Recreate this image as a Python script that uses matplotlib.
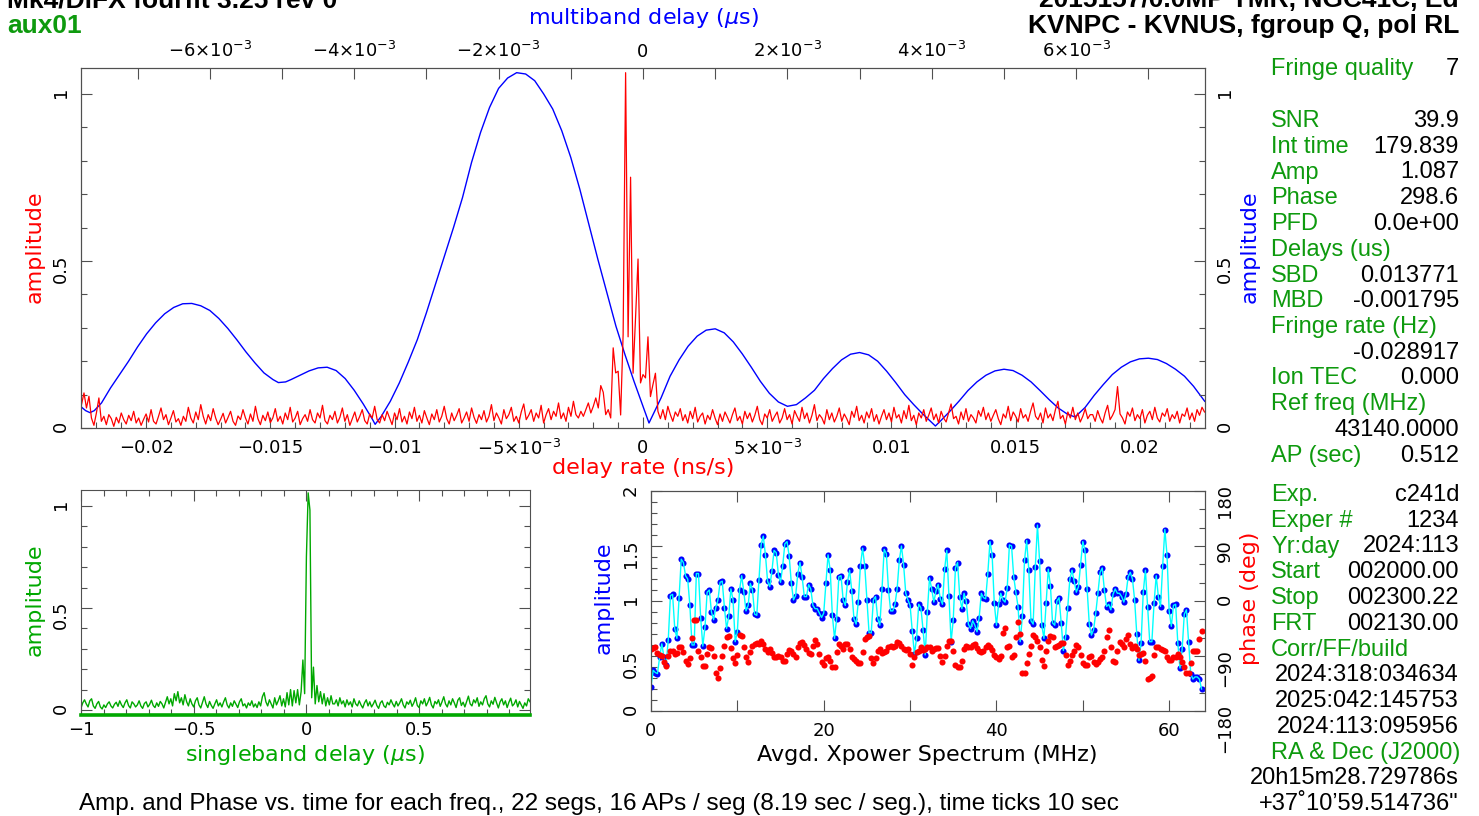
import numpy as np
from matplotlib import pyplot as plt
from matplotlib.ticker import FixedLocator, MultipleLocator

W, H = 1479, 816
RED, BLUE, CYAN = "#ff0000", "#0000ff", "#00ffff"
GREEN = "#00a800"
LABEL_GREEN = "#0e9a0e"
TICK = "#505050"

# ---- top panel: delay rate spectrum (red), one value per 1e-4 ns/s from -0.0226
rate_start, rate_step = -0.0226, 1e-4
rate_amp_milli = [
    70, 105, 60, 95, 30, 8, 45, 90, 20, 35, 10, 40, 28, 5, 32, 15, 45, 25, 12, 38,
    22, 50, 15, 30, 8, 26, 42, 18, 55, 20, 12, 35, 60, 25, 40, 10, 30, 52, 18, 28,
    8, 35, 20, 62, 30, 15, 48, 25, 70, 35, 12, 40, 22, 58, 30, 10, 26, 44, 15, 32,
    50, 20, 8, 36, 25, 55, 30, 12, 42, 20, 65, 28, 10, 38, 22, 48, 16, 30, 58, 20,
    35, 12, 45, 25, 62, 18, 30, 50, 10, 28, 40, 20, 55, 25, 15, 45, 30, 68, 22, 12,
    38, 25, 50, 15, 32, 60, 20, 40, 8, 28, 48, 18, 35, 55, 22, 12, 42, 30, 65, 25,
    15, 40, 22, 50, 30, 10, 45, 25, 58, 18, 35, 12, 48, 28, 62, 20, 38, 15, 52, 30,
    10, 42, 25, 55, 18, 35, 65, 28, 12, 45, 22, 38, 58, 15, 30, 48, 20, 60, 32, 14,
    40, 25, 52, 18, 35, 70, 22, 45, 30, 12, 55, 28, 40, 62, 20, 35, 15, 48, 72, 25,
    38, 55, 20, 45, 30, 68, 15, 40, 58, 25, 50, 35, 75, 28, 45, 20, 62, 35, 80, 40,
    30, 50, 35, 55, 75, 45, 65, 90, 60, 127, 107, 40, 55, 30, 240, 165, 170, 39, 280, 1064,
    273, 751, 164, 330, 506, 135, 160, 150, 273, 94, 130, 164, 50, 28, 55, 25, 65, 40, 20, 48,
    35, 58, 22, 40, 15, 50, 28, 62, 18, 35, 45, 12, 38, 25, 55, 30, 10, 42, 20, 48,
    32, 15, 40, 60, 22, 35, 12, 50, 28, 45, 18, 38, 65, 25, 10, 42, 30, 55, 20, 35,
    48, 15, 30, 58, 25, 40, 12, 52, 35, 20, 62, 28, 45, 15, 38, 70, 22, 40, 30, 12,
    55, 25, 45, 18, 35, 60, 20, 42, 28, 10, 50, 32, 65, 22, 38, 15, 48, 30, 58, 20,
    40, 12, 35, 55, 25, 45, 18, 62, 30, 40, 15, 52, 28, 68, 22, 38, 10, 45, 30, 55,
    20, 38, 60, 25, 42, 15, 50, 30, 18, 45, 72, 28, 35, 12, 48, 25, 58, 20, 40, 30,
    15, 52, 35, 62, 25, 45, 20, 38, 55, 28, 10, 42, 30, 65, 22, 48, 35, 18, 58, 30,
    40, 20, 50, 75, 35, 25, 45, 15, 60, 30, 42, 22, 55, 80, 28, 38, 12, 48, 30, 62,
    25, 45, 18, 35, 58, 28, 40, 40, 20, 52, 30, 15, 45, 68, 25, 38, 55, 124, 42, 30,
    12, 48, 35, 60, 22, 40, 28, 55, 15, 38, 50, 25, 62, 30, 18, 45, 35, 58, 20, 40,
    28, 50, 15, 42, 35, 60, 25, 45, 20, 55, 38, 62, 48,
]

# ---- top panel: multiband delay function (blue); delay in units of 1e-3 us
mbd_delay_milli = [
    -7.78, -7.72, -7.66, -7.6, -7.5, -7.375, -7.25, -7.125, -7.0, -6.875,
    -6.75, -6.625, -6.5, -6.375, -6.25, -6.125, -6.0, -5.875, -5.75, -5.625,
    -5.5, -5.375, -5.25, -5.125, -5.05, -4.95, -4.875, -4.75, -4.625, -4.5,
    -4.375, -4.25, -4.125, -4.0, -3.875, -3.75, -3.71, -3.625, -3.5, -3.375,
    -3.25, -3.125, -3.0, -2.875, -2.75, -2.625, -2.5, -2.375, -2.25, -2.125,
    -2.0, -1.875, -1.75, -1.625, -1.5, -1.375, -1.25, -1.125, -1.0, -0.875,
    -0.75, -0.625, -0.5, -0.375, -0.25, -0.125, 0.0, 0.083, 0.25, 0.375,
    0.5, 0.625, 0.75, 0.875, 1.0, 1.125, 1.25, 1.375, 1.5, 1.625,
    1.75, 1.875, 2.0, 2.125, 2.25, 2.375, 2.5, 2.625, 2.75, 2.875,
    3.0, 3.125, 3.25, 3.375, 3.5, 3.625, 3.75, 3.875, 4.0, 4.05,
    4.125, 4.25, 4.375, 4.5, 4.625, 4.75, 4.875, 5.0, 5.125, 5.25,
    5.375, 5.5, 5.625, 5.75, 5.875, 5.97, 6.0, 6.125, 6.25, 6.375,
    6.5, 6.625, 6.75, 6.875, 7.0, 7.125, 7.25, 7.375, 7.5, 7.625,
    7.78,
]
mbd_amp = [
    0.063, 0.052, 0.046, 0.052, 0.075, 0.12, 0.16, 0.2, 0.243, 0.282,
    0.315, 0.342, 0.361, 0.372, 0.373, 0.366, 0.352, 0.328, 0.298, 0.264,
    0.228, 0.195, 0.165, 0.145, 0.136, 0.138, 0.145, 0.158, 0.171, 0.18,
    0.182, 0.172, 0.148, 0.113, 0.072, 0.027, 0.011, 0.035, 0.08, 0.135,
    0.198, 0.265, 0.345, 0.43, 0.515, 0.6, 0.69, 0.795, 0.885, 0.96,
    1.017, 1.048, 1.064, 1.06, 1.04, 1.0, 0.955, 0.89, 0.81, 0.715,
    0.61, 0.505, 0.405, 0.305, 0.22, 0.14, 0.065, 0.015, 0.09, 0.155,
    0.204, 0.245, 0.275, 0.293, 0.297, 0.285, 0.258, 0.222, 0.182, 0.14,
    0.104, 0.078, 0.065, 0.07, 0.09, 0.113, 0.148, 0.178, 0.204, 0.221,
    0.226, 0.219, 0.2, 0.17, 0.136, 0.1, 0.07, 0.042, 0.016, 0.006,
    0.022, 0.05, 0.08, 0.112, 0.138, 0.158, 0.171, 0.176, 0.172, 0.158,
    0.138, 0.112, 0.085, 0.06, 0.042, 0.034, 0.036, 0.062, 0.098, 0.13,
    0.16, 0.182, 0.198, 0.207, 0.209, 0.205, 0.193, 0.176, 0.155, 0.125,
    0.08,
]

# ---- singleband delay function (green), 256 lags from -1 us, 1/128 us apart
sbd_amp_milli = [
    10, 35, 50, 30, 15, 45, 55, 20, 8, 30, 42, 15, 5, 25, 12, 30,
    40, 20, 10, 28, 38, 18, 45, 25, 12, 35, 50, 22, 10, 40, 30, 15,
    25, 45, 20, 8, 32, 40, 15, 28, 48, 22, 12, 35, 18, 42, 30, 10,
    38, 65, 30, 55, 20, 80, 45, 90, 35, 60, 25, 75, 40, 20, 55, 30,
    15, 45, 60, 25, 10, 38, 65, 30, 12, 42, 22, 8, 30, 50, 20, 35,
    15, 40, 60, 25, 10, 35, 18, 45, 28, 12, 40, 55, 20, 30, 10, 35,
    22, 45, 15, 30, 12, 40, 20, 65, 85, 40, 20, 50, 30, 10, 60, 25,
    45, 70, 20, 55, 15, 85, 25, 100, 20, 95, 35, 100, 25, 90, 245, 80,
    750, 1064, 980, 60, 210, 30, 120, 40, 90, 30, 80, 20, 60, 25, 70, 30,
    30, 50, 20, 60, 30, 45, 15, 50, 25, 40, 15, 55, 30, 20, 45, 25,
    10, 35, 50, 20, 40, 15, 30, 48, 22, 8, 35, 45, 20, 12, 38, 25,
    50, 30, 15, 42, 20, 35, 55, 25, 10, 40, 28, 48, 18, 35, 60, 22,
    12, 45, 30, 55, 20, 38, 62, 25, 10, 42, 30, 50, 18, 40, 65, 30,
    15, 45, 25, 55, 35, 12, 48, 60, 22, 38, 15, 42, 68, 30, 20, 50,
    35, 60, 18, 40, 25, 55, 70, 30, 15, 45, 28, 62, 35, 10, 40, 55,
    25, 45, 12, 38, 58, 20, 30, 50, 15, 42, 25, 8, 35, 20, 55, 40,
]

# ---- averaged cross-power spectrum, 0.25 MHz per point
spec_step = 0.25
spec_amp = [
    0.22, 0.37, 0.35, 0.34, 0.49, 0.61, 0.49, 0.42, 0.65, 1.05,
    1.06, 0.75, 0.66, 1.03, 1.38, 1.35, 1.23, 1.20, 0.96, 0.60,
    0.60, 1.25, 1.25, 0.85, 0.59, 0.76, 1.08, 1.10, 0.90, 0.83,
    0.94, 1.01, 1.17, 1.18, 0.94, 0.75, 0.86, 1.11, 1.01, 0.63,
    0.72, 1.10, 1.23, 1.08, 0.91, 0.96, 1.16, 1.10, 0.88, 0.87,
    1.19, 1.51, 1.59, 1.42, 1.18, 1.13, 1.27, 1.46, 1.44, 1.24,
    1.17, 1.32, 1.52, 1.54, 1.41, 1.16, 1.01, 1.05, 1.25, 1.35,
    1.22, 1.04, 1.04, 1.15, 1.11, 0.96, 0.93, 0.93, 0.89, 0.85,
    0.89, 1.16, 1.42, 1.28, 0.87, 0.66, 0.84, 1.22, 1.23, 1.01,
    0.96, 1.17, 1.28, 1.09, 0.84, 0.79, 0.99, 1.32, 1.48, 1.32,
    1.01, 0.71, 0.71, 1.01, 1.04, 0.84, 0.78, 1.11, 1.47, 1.43,
    1.10, 0.91, 0.91, 0.97, 1.11, 1.37, 1.50, 1.33, 1.07, 1.01,
    0.96, 0.73, 0.52, 0.66, 0.97, 0.94, 0.74, 0.51, 0.90, 1.21,
    1.11, 0.99, 1.09, 1.15, 1.02, 0.97, 1.29, 1.46, 1.05, 0.63,
    0.83, 1.30, 1.35, 1.04, 0.93, 1.07, 1.00, 0.79, 0.75, 0.82,
    0.78, 0.72, 0.85, 1.07, 1.03, 1.02, 1.25, 1.54, 1.42, 0.98,
    0.78, 0.97, 1.07, 1.01, 0.99, 1.12, 1.51, 1.50, 1.22, 1.08,
    0.95, 0.63, 0.86, 1.37, 1.55, 1.28, 0.82, 0.79, 1.31, 1.69,
    1.36, 0.78, 0.66, 0.98, 1.29, 1.14, 0.80, 0.78, 1.00, 1.03,
    0.80, 0.55, 0.67, 0.94, 1.20, 1.28, 1.18, 1.08, 1.13, 1.33,
    1.54, 1.46, 1.11, 0.79, 0.69, 0.74, 0.89, 1.07, 1.26, 1.30,
    1.10, 0.95, 0.97, 0.92, 1.06, 1.11, 1.07, 1.07, 1.04, 0.99,
    1.06, 1.22, 1.26, 1.20, 1.01, 0.70, 0.46, 0.62, 1.08, 1.28,
    0.95, 0.63, 0.63, 0.98, 1.23, 1.04, 0.95, 1.32, 1.65, 1.42,
    0.91, 0.77, 0.96, 0.97, 0.62, 0.39, 0.56, 0.88, 0.92, 0.63,
    0.34, 0.29, 0.31, 0.31, 0.29, 0.20,
]
spec_phase = [
    -78.6, -77.0, -75.9, -85.8, -87.9, -89.6, -100.5, -106.0, -89.6, -81.4,
    -82.5, -86.8, -85.8, -75.9, -75.9, -83.0, -97.8, -103.3, -93.4, -60.5,
    -31.0, -31.0, -81.4, -92.3, -106.0, -107.1, -86.8, -75.9, -77.0, -89.6,
    -117.0, -126.3, -110.4, -89.6, -73.1, -59.4, -56.7, -77.0, -94.0, -102.2,
    -87.9, -55.1, -56.7, -74.8, -92.3, -100.5, -84.1, -73.1, -70.4, -69.3,
    -70.4, -66.0, -70.4, -78.6, -84.1, -78.6, -85.8, -92.3, -92.3, -89.6,
    -92.3, -97.8, -97.8, -86.8, -80.3, -81.4, -86.8, -91.2, -74.8, -69.3,
    -67.7, -71.5, -78.6, -85.8, -86.8, -73.1, -63.8, -70.4, -86.8, -100.5,
    -104.4, -93.4, -91.2, -97.8, -108.8, -108.8, -84.1, -70.4, -73.1, -78.6,
    -70.4, -70.4, -78.6, -92.3, -95.1, -97.8, -102.2, -102.2, -83.0, -62.2,
    -59.4, -56.7, -93.4, -102.2, -93.4, -82.5, -78.6, -85.8, -84.1, -81.4,
    -74.8, -73.1, -75.9, -73.1, -67.7, -69.3, -73.1, -78.6, -79.7, -78.6,
    -86.8, -104.4, -91.2, -84.1, -82.5, -75.9, -80.0, -78.0,
    -74.8, -75.9, -81.4, -78.6, -77.0, -77.0, -89.6, -100.5, -89.6, -73.1,
    -66.0, -66.0, -82.5, -104.4, -107.7, -108.8, -98.9, -78.6, -73.1, -75.9,
    -75.9, -71.5, -70.4, -77.0, -81.4, -84.1, -82.5, -75.9, -71.5, -74.8,
    -80.3, -87.9, -92.3, -95.1, -89.6, -52.9, -44.1, -74.8, -73.1, -92.3,
    -87.9, -58.4, -34.8, -54.0, -117.0, -118.1, -102.2, -86.8, -73.1, -55.1,
    -58.4, -66.0, -75.9, -96.2, -106.0, -81.4, -64.9, -56.7, -59.4, -75.9,
    -73.0,
    -71.5, -69.3, -69.3, -87.9, -104.4, -97.8, -87.9, -81.4, -71.5, -74.8,
    -87.9, -102.2, -104.4, -104.4, -91.2, -89.6, -100.5, -103.3, -100.5, -95.1,
    -92.3, -81.4, -58.4, -47.4, -75.9, -97.8, -100.5, -81.4, -67.7, -70.4,
    -74.8, -62.2, -55.1, -70.4, -77.0, -73.1, -78.6, -87.9, -86.8, -85.8,
    -97.8, -127.9, -125.2, -122.5, -87.9, -75.9, -75.9, -78.6, -80.3, -81.4,
    -91.2, -96.7, -96.7, -91.2, -92.3, -86.8, -92.3, -100.5, -108.8, -118.6,
    -118.6, -102.2, -82.5, -82.5, -82.5, -62.2, -49.6,
]

# ---- tick labels
rate_ticks = [-0.02, -0.015, -0.01, -0.005, 0, 0.005, 0.01, 0.015, 0.02]
rate_ticklabels = ["\u22120.02", "\u22120.015", "\u22120.01", r"$-5{\times}10^{-3}$", "0",
                   r"$5{\times}10^{-3}$", "0.01", "0.015", "0.02"]
mbd_ticks = [-6e-3, -4e-3, -2e-3, 0, 2e-3, 4e-3, 6e-3]
mbd_ticklabels = [r"$-6{\times}10^{-3}$", r"$-4{\times}10^{-3}$", r"$-2{\times}10^{-3}$", "0",
                  r"$2{\times}10^{-3}$", r"$4{\times}10^{-3}$", r"$6{\times}10^{-3}$"]
sbd_ticks = [-1, -0.5, 0, 0.5]
sbd_ticklabels = ["\u22121", "\u22120.5", "0", "0.5"]
freq_ticks = [0, 20, 40, 60]
phase_ticks = [-180, -90, 0, 90, 180]
phase_ticklabels = ["\u2212180", "\u221290", "0", "90", "180"]

# ---- right hand text column
info_upper = [("SNR", "39.9"), ("Int time", "179.839"), ("Amp", "1.087"), ("Phase", "298.6"),
              ("PFD", "0.0e+00"), ("Delays (us)", ""), ("SBD", "0.013771"), ("MBD", "-0.001795"),
              ("Fringe rate (Hz)", ""), ("", "-0.028917"), ("Ion TEC", "0.000"),
              ("Ref freq (MHz)", ""), ("", "43140.0000"), ("AP (sec)", "0.512")]
info_lower = [("Exp.", "c241d"), ("Exper #", "1234"), ("Yr:day", "2024:113"),
              ("Start", "002000.00"), ("Stop", "002300.22"), ("FRT", "002130.00"),
              ("Corr/FF/build", ""), ("", "2024:318:034634"), ("", "2025:042:145753"),
              ("", "2024:113:095956"), ("RA & Dec (J2000)", ""), ("", "20h15m28.729786s"),
              ("", "+37\u02da10\u201959.514736\"")]

plt.rcParams['font.family'] = ['DejaVu Sans']
plt.rcParams['mathtext.fontset'] = 'dejavusans'
plt.rcParams['xtick.labelsize'] = 13
plt.rcParams['ytick.labelsize'] = 13

fig = plt.figure(figsize=(W / 100, H / 100), dpi=100)


def px_axes(left, top, right, bottom):
    return fig.add_axes([left / W, 1 - bottom / H, (right - left) / W, (bottom - top) / H])


def px_text(x, y, s, **kw):
    fig.text(x / W, 1 - y / H, s, **kw)


def pg_frame(a):
    for s in a.spines.values():
        s.set_color(TICK)
        s.set_linewidth(0.8)
    a.tick_params(which='both', direction='in', color=TICK, width=0.8)
    a.tick_params(which='major', length=8)
    a.tick_params(which='minor', length=4)


# ------------- top panel
ax = px_axes(81, 68, 1205, 428)
rate_x = rate_start + rate_step * np.arange(len(rate_amp_milli))
ax.plot(rate_x, np.array(rate_amp_milli) / 1000, color=RED, lw=0.9)
ax.set_xlim(-0.02262, 0.02262)
ax.set_ylim(0, 1.078)
ax.xaxis.set_major_locator(FixedLocator(rate_ticks))
ax.set_xticklabels(rate_ticklabels)
ax.xaxis.set_minor_locator(MultipleLocator(0.001))
ax.yaxis.set_major_locator(FixedLocator([0, 0.5, 1]))
ax.set_yticklabels(["0", "0.5", "1"])
ax.yaxis.set_minor_locator(MultipleLocator(0.1))
pg_frame(ax)
ax.tick_params(which='both', top=False, right=True, labelright=True)
ax.tick_params(axis='y', labelrotation=90, pad=8)
ax.tick_params(axis='x', pad=8)

axm = ax.twiny()
axm.plot(np.array(mbd_delay_milli) / 1000, mbd_amp, color=BLUE, lw=1.0)
axm.set_xlim(-7.784e-3, 7.784e-3)
axm.xaxis.set_major_locator(FixedLocator(mbd_ticks))
axm.set_xticklabels(mbd_ticklabels)
axm.xaxis.set_minor_locator(MultipleLocator(1e-3))
pg_frame(axm)
axm.tick_params(which='minor', length=8)
axm.tick_params(axis='x', pad=5)
ax.set_zorder(axm.get_zorder() + 1)
ax.patch.set_visible(False)

# ------------- singleband delay panel
axb = px_axes(81, 490, 530, 715)
sbd_x = -1 + np.arange(len(sbd_amp_milli)) / 128
axb.plot(sbd_x, np.array(sbd_amp_milli) / 1000, color=GREEN, lw=1.0)
axb.set_xlim(-1, 0.992)
axb.set_ylim(-0.0245, 1.078)
axb.xaxis.set_major_locator(FixedLocator(sbd_ticks))
axb.set_xticklabels(sbd_ticklabels)
axb.xaxis.set_minor_locator(MultipleLocator(0.1))
axb.yaxis.set_major_locator(FixedLocator([0, 0.5, 1]))
axb.set_yticklabels(["0", "0.5", "1"])
axb.yaxis.set_minor_locator(MultipleLocator(0.1))
pg_frame(axb)
axb.tick_params(which='both', top=True, right=True)
axb.tick_params(axis='y', labelrotation=90, pad=8)
axb.tick_params(axis='x', pad=4)
axb.spines['bottom'].set_color(GREEN)
axb.spines['bottom'].set_linewidth(2.6)

# ------------- spectrum panel
axs = px_axes(651, 491, 1205, 711)
spec_f = spec_step * np.arange(len(spec_amp))
axs.plot(spec_f, spec_amp, 'o', color=BLUE, ms=4.4, mew=0)
axs.plot(spec_f, spec_amp, '-', color=CYAN, lw=1.0)
axs.set_xlim(0, 64.15)
axs.set_ylim(0, 2)
axs.xaxis.set_major_locator(FixedLocator(freq_ticks))
axs.xaxis.set_minor_locator(MultipleLocator(10))
axs.yaxis.set_major_locator(FixedLocator([0, 0.5, 1, 1.5, 2]))
axs.set_yticklabels(["0", "0.5", "1", "1.5", "2"])
axs.yaxis.set_minor_locator(MultipleLocator(0.1))
pg_frame(axs)
axs.tick_params(which='both', top=True, right=False)
axs.tick_params(axis='x', which='minor', length=8)
axs.tick_params(axis='y', labelrotation=90, pad=8)
axs.tick_params(axis='x', pad=8)

axp = axs.twinx()
phase_f = spec_step * np.arange(len(spec_phase))
axp.plot(phase_f, spec_phase, 'o', color=RED, ms=4.4, mew=0)
axp.set_ylim(-180, 180)
axp.yaxis.set_major_locator(FixedLocator(phase_ticks))
axp.set_yticklabels(phase_ticklabels)
axp.yaxis.set_minor_locator(MultipleLocator(30))
pg_frame(axp)
axp.tick_params(axis='y', labelrotation=90, pad=8)

# ------------- axis titles (pgplot style)
lab = dict(fontsize=16)
px_text(643, 18, r"multiband delay ($\mu$s)", color=BLUE, ha='center', va='center', **lab)
px_text(643, 468, "delay rate (ns/s)", color=RED, ha='center', va='center', **lab)
px_text(35, 247, "amplitude", color=RED, rotation=90, ha='center', va='center', **lab)
px_text(1250, 247, "amplitude", color=BLUE, rotation=90, ha='center', va='center', **lab)
px_text(35, 600, "amplitude", color=GREEN, rotation=90, ha='center', va='center', **lab)
px_text(305, 755, r"singleband delay ($\mu$s)", color=GREEN, ha='center', va='center', **lab)
px_text(604, 598, "amplitude", color=BLUE, rotation=90, ha='center', va='center', **lab)
px_text(1250, 598, "phase (deg)", color=RED, rotation=90, ha='center', va='center', **lab)
px_text(927, 755, "Avgd. Xpower Spectrum (MHz)", color='black', ha='center', va='center', **lab)

# ------------- header / footer
hdr = dict(family='Liberation Sans', weight='bold', fontsize=19)
px_text(7, 7, "Mk4/DiFX fourfit 3.25 rev 0", va='baseline', color='black', **hdr)
px_text(1459, 7, "2015157/0.0MP TMR, NGC41C, Ed", va='baseline', ha='right', color='black', **hdr)
px_text(7, 33, "aux01", va='baseline', color=LABEL_GREEN, **hdr)
px_text(1459, 33, "KVNPC - KVNUS, fgroup Q, pol RL", va='baseline', ha='right', color='black', **hdr)
px_text(79, 810, "Amp. and Phase vs. time for each freq., 22 segs, 16 APs / seg (8.19 sec / seg.), "
        "time ticks 10 sec", va='baseline', family='Liberation Sans', fontsize=17.5, color='black')

info = dict(family='Liberation Sans', fontsize=17, va='baseline')
px_text(1271, 75, "Fringe quality", color=LABEL_GREEN, **info)
px_text(1459, 75, "7", ha='right', color='black', **info)
for rows, y0 in ((info_upper, 127), (info_lower, 501)):
    for i, (name, val) in enumerate(rows):
        y = y0 + i * 25.75
        if name:
            px_text(1271, y, name, color=LABEL_GREEN, **info)
        if val:
            px_text(1459, y, val, ha='right', color='black', **info)

fig.savefig("out.png", dpi=100)
